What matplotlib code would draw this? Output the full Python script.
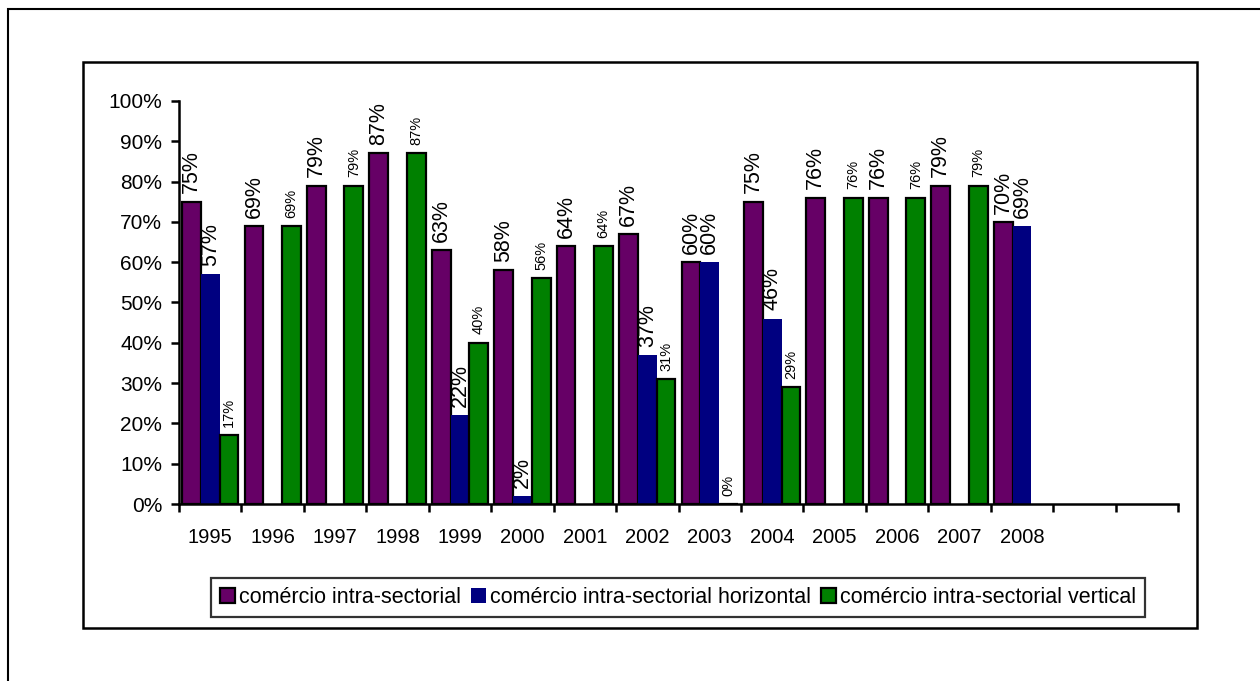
import matplotlib
matplotlib.use("Agg")
import matplotlib.pyplot as plt
import numpy as np
from matplotlib import ticker
from matplotlib.patches import Rectangle

plt.rcParams["font.family"] = ["Liberation Sans", "DejaVu Sans"]

# Data (fractions); NaN = no bar
years = ["1995", "1996", "1997", "1998", "1999", "2000", "2001", "2002",
         "2003", "2004", "2005", "2006", "2007", "2008", "", ""]
intra = [0.75, 0.69, 0.79, 0.87, 0.63, 0.58, 0.64, 0.67, 0.60, 0.75, 0.76, 0.76, 0.79, 0.70, np.nan, np.nan]
horizontal = [0.57, np.nan, np.nan, np.nan, 0.22, 0.02, np.nan, 0.37, 0.60, 0.46, np.nan, np.nan, np.nan, 0.69, np.nan, np.nan]
vertical = [0.17, 0.69, 0.79, 0.87, 0.40, 0.56, 0.64, 0.31, 0.00, 0.29, 0.76, 0.76, 0.79, np.nan, np.nan, np.nan]

series_names = ["comércio intra-sectorial",
                "comércio intra-sectorial horizontal",
                "comércio intra-sectorial vertical"]
colours = ["#660066", "#000080", "#008000"]

W, H = 1260, 681
fig = plt.figure(figsize=(W / 100, H / 100), dpi=100)

# outer frame (only left and top are visible in the picture)
fig.patches.append(Rectangle((8 / W, -0.5), 2.0, 1 - 9 / H + 0.5, transform=fig.transFigure,
                             fill=False, edgecolor="black", linewidth=1.5))
# chart area frame
fig.patches.append(Rectangle((83 / W, 1 - 628 / H), (1197 - 83) / W, (628 - 62) / H,
                             transform=fig.transFigure, fill=False, edgecolor="black", linewidth=1.8))

ax = fig.add_axes([179 / W, 1 - 504 / H, (1178 - 179) / W, (504 - 101) / H])

x = np.arange(len(years))
width = 0.3
for i, (vals, col) in enumerate(zip([intra, horizontal, vertical], colours)):
    edge = "none" if i == 1 else "black"
    ax.bar(x + (i - 1) * width, vals, width, color=col, edgecolor=edge,
           linewidth=1.6, label=series_names[i])
    size = 10.5 if i == 2 else 15.5
    for xi, v in zip(x + (i - 1) * width, vals):
        if np.isnan(v):
            continue
        ax.annotate(f"{v * 100:.0f}%", (xi, v), xytext=(0, 6), textcoords="offset points",
                    rotation=90, ha="center", va="bottom", fontsize=size)

ax.set_xlim(-0.5, len(years) - 0.5)
ax.set_ylim(0, 1.0)
ax.spines["top"].set_visible(False)
ax.spines["right"].set_visible(False)
for s in ("left", "bottom"):
    ax.spines[s].set_linewidth(1.8)

ax.yaxis.set_major_locator(ticker.MultipleLocator(0.1))
ax.yaxis.set_major_formatter(ticker.PercentFormatter(1.0, decimals=0))
ax.tick_params(axis="y", direction="out", length=6, width=1.8, labelsize=15, pad=6)

# tick marks at category boundaries, labels at category centres
ax.set_xticks(np.arange(len(years) + 1) - 0.5)
ax.set_xticklabels([])
ax.set_xticks(x, minor=True)
ax.set_xticklabels(years, minor=True)
ax.tick_params(axis="x", which="major", direction="out", length=6, width=1.8)
ax.tick_params(axis="x", which="minor", length=0, labelsize=14.5, pad=17)

leg = fig.legend(loc="center", bbox_to_anchor=(678 / W, 1 - 597.5 / H), ncol=3,
                 fontsize=15.5, frameon=True, fancybox=False, shadow=False,
                 handlelength=0.7, handleheight=0.7, handletextpad=0.2,
                 columnspacing=0.45, borderpad=0.4, borderaxespad=0)
leg.get_frame().set_edgecolor("black")
leg.get_frame().set_linewidth(1.6)

fig.savefig("out.png", dpi=100)
